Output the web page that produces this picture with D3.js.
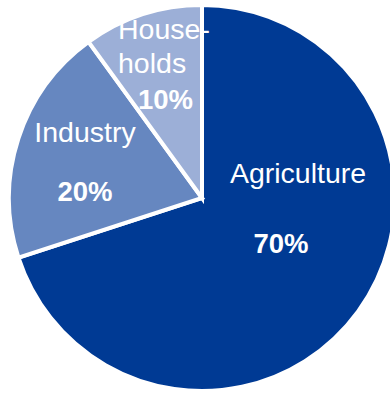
<!DOCTYPE html>
<html>
<head>
<meta charset="utf-8">
<script src="https://cdn.jsdelivr.net/npm/d3@7"></script>
<style>
  html, body { margin: 0; padding: 0; background: #ffffff; }
  svg { display: block; }
  text { font-family: "Liberation Sans", Arial, sans-serif; fill: #ffffff; }
</style>
</head>
<body>
<svg id="chart" width="390" height="394"></svg>
<script>
// Share of water use by sector
const categories = ["Agriculture", "Industry", "Households"];
const shares = [70, 20, 10];
const nameLines = [["Agriculture"], ["Industry"], ["House-", "holds"]];
const colors = ["#003A94", "#6687C0", "#9CAFD7"];

// Label anchors (layout only): name block and percentage
const labelLayout = [
  { nameX: 298, nameY: 183, anchor: "middle", pctX: 281, pctY: 253 },
  { nameX: 85,  nameY: 142, anchor: "middle", pctX: 85,  pctY: 201 },
  { nameX: 118, nameY: 39,  anchor: "start",  pctX: 165.5, pctY: 109 }
];
const lineStep = 34;

const svg = d3.select("#chart");
const cx = 202, cy = 198, r = 193;

const pie = d3.pie().sort(null).value(d => d.value);
const arc = d3.arc().innerRadius(0).outerRadius(r);

const data = categories.map((c, i) => ({ name: c, value: shares[i], color: colors[i] }));
const arcs = pie(data);

const g = svg.append("g").attr("transform", `translate(${cx},${cy})`);

g.selectAll("path.slice")
  .data(arcs)
  .join("path")
  .attr("class", "slice")
  .attr("d", arc)
  .attr("fill", d => d.data.color)
  .attr("stroke", "#ffffff")
  .attr("stroke-width", 4)
  .attr("stroke-linejoin", "miter");

const labels = svg.append("g");
arcs.forEach((a, i) => {
  const L = labelLayout[i];
  nameLines[i].forEach((line, k) => {
    labels.append("text")
      .attr("x", L.nameX)
      .attr("y", L.nameY + k * lineStep)
      .attr("text-anchor", L.anchor)
      .attr("font-size", 28.5)
      .text(line);
  });
  labels.append("text")
    .attr("x", L.pctX)
    .attr("y", L.pctY)
    .attr("text-anchor", "middle")
    .attr("font-size", 27.5)
    .attr("font-weight", "bold")
    .text(`${a.data.value}%`);
});
</script>
</body>
</html>
